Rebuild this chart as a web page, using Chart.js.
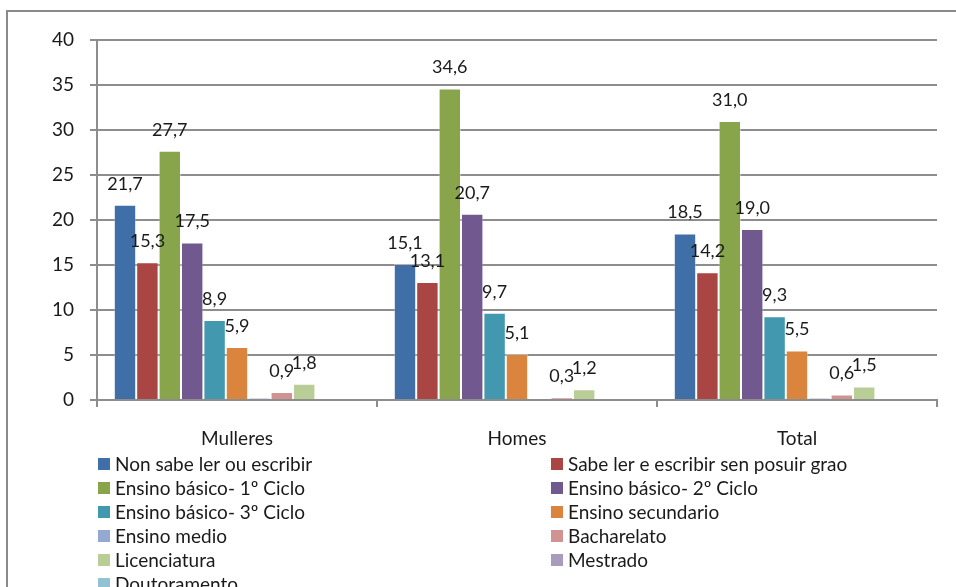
<!DOCTYPE html>
<html>
<head>
<meta charset="utf-8">
<script src="https://cdn.jsdelivr.net/npm/chart.js@4/dist/chart.umd.min.js"></script>
<style>
  html, body { margin: 0; padding: 0; background: #fff; }
  #contenedor { position: relative; width: 956px; height: 587px; }
</style>
</head>
<body>
<div id="contenedor"><canvas id="grafico" width="956" height="587"></canvas></div>
<script>
// grupos do eixo X
const grupos = ['Mulleres', 'Homes', 'Total'];

// niveis de estudos (orde da lenda)
const niveis = [
  'Non sabe ler ou escribir',
  'Sabe ler e escribir sen posuir grao',
  'Ensino básico- 1º Ciclo',
  'Ensino básico- 2º Ciclo',
  'Ensino básico- 3º Ciclo',
  'Ensino secundario',
  'Ensino medio',
  'Bacharelato',
  'Licenciatura',
  'Mestrado',
  'Doutoramento'
];

// porcentaxes por nivel: Mulleres, Homes, Total
const nonSabe       = [21.7, 15.1, 18.5];
const sabeLer       = [15.3, 13.1, 14.2];
const basico1       = [27.7, 34.6, 31.0];
const basico2       = [17.5, 20.7, 19.0];
const basico3       = [8.9, 9.7, 9.3];
const secundario    = [5.9, 5.1, 5.5];
const medio         = [0.2, 0.1, 0.2];
const bacharelato   = [0.9, 0.3, 0.6];
const licenciatura  = [1.8, 1.2, 1.5];
const mestrado      = [0, 0, 0];
const doutoramento  = [0, 0, 0];

const valores = [nonSabe, sabeLer, basico1, basico2, basico3, secundario,
  medio, bacharelato, licenciatura, mestrado, doutoramento];

// que series levan etiqueta co valor
const conEtiqueta = [true, true, true, true, true, true, false, true, true, false, false];

// ticks do eixo Y
const ticksY = [0, 5, 10, 15, 20, 25, 30, 35, 40];

const cores = ['#3f6fa6', '#a94543', '#88a54c', '#71588f', '#4198af', '#db843d',
  '#93a9cf', '#d19392', '#b9cd96', '#a99bbd', '#92c3d4'];

const fonte = 'Lato, "Open Sans", sans-serif';
const corTexto = '#1a1a1a';
const corLinhas = '#8d8d8d';

const marco = {
  id: 'marco',
  beforeDraw(chart) {
    const ctx = chart.ctx;
    ctx.save();
    ctx.strokeStyle = '#8a8a8a';
    ctx.lineWidth = 2;
    ctx.strokeRect(7, 11, 1100, 1100);
    ctx.restore();
  }
};

const etiquetasValores = {
  id: 'etiquetasValores',
  afterDatasetsDraw(chart) {
    const ctx = chart.ctx;
    ctx.save();
    ctx.font = '18px ' + fonte;
    ctx.fillStyle = corTexto;
    ctx.textAlign = 'center';
    ctx.textBaseline = 'middle';
    chart.data.datasets.forEach((ds, i) => {
      if (!conEtiqueta[i]) return;
      chart.getDatasetMeta(i).data.forEach((barra, j) => {
        const v = ds.data[j];
        if (v === null) return;
        ctx.fillText(v.toFixed(1).replace('.', ','), barra.x, barra.y - 21);
      });
    });
    ctx.restore();
  }
};

// lenda en dúas columnas debaixo do eixo
const lenda = {
  id: 'lenda',
  afterDraw(chart) {
    const ctx = chart.ctx;
    const area = chart.chartArea;
    ctx.save();
    ctx.font = '19px ' + fonte;
    ctx.textAlign = 'left';
    ctx.textBaseline = 'middle';
    chart.data.datasets.forEach((ds, i) => {
      const col = i % 2;
      const fila = Math.floor(i / 2);
      const x = area.left + 1 + col * 453;
      const y = area.bottom + 64 + fila * 24;
      ctx.fillStyle = ds.backgroundColor;
      ctx.fillRect(x, y - 6, 12, 12);
      ctx.fillStyle = corTexto;
      ctx.fillText(ds.label, x + 17, y + 1);
    });
    ctx.restore();
  }
};

const datasets = niveis.map((nome, i) => ({
  label: nome,
  data: valores[i],
  backgroundColor: cores[i],
  borderColor: 'rgba(255,255,255,0.35)',
  borderWidth: 1,
  categoryPercentage: 0.88,
  barPercentage: 1
}));

const ctx = document.getElementById('grafico').getContext('2d');
const chart = new Chart(ctx, {
  type: 'bar',
  data: {
    labels: grupos,
    datasets: datasets
  },
  options: {
    responsive: false,
    animation: false,
    devicePixelRatio: 1,
    layout: { padding: { top: 40, right: 19, left: 0, bottom: 0 } },
    plugins: {
      legend: { display: false },
      tooltip: { enabled: false }
    },
    scales: {
      x: {
        afterFit(scale) { scale.height = 187; },
        grid: {
          offset: true,
          drawOnChartArea: false,
          drawTicks: true,
          tickLength: 7,
          color: corLinhas,
          lineWidth: 2
        },
        border: { display: true, color: corLinhas, width: 2 },
        ticks: {
          color: corTexto,
          padding: 20,
          font: { family: fonte, size: 19 }
        }
      },
      y: {
        min: 0,
        max: 40,
        afterFit(scale) { scale.width = 97; },
        afterBuildTicks(scale) { scale.ticks = ticksY.map(v => ({ value: v })); },
        grid: {
          color: corLinhas,
          lineWidth: 2,
          tickLength: 7
        },
        border: { display: true, color: corLinhas, width: 2 },
        ticks: {
          color: corTexto,
          padding: 16,
          font: { family: fonte, size: 19 }
        }
      }
    }
  },
  plugins: [marco, etiquetasValores, lenda]
});
</script>
</body>
</html>
